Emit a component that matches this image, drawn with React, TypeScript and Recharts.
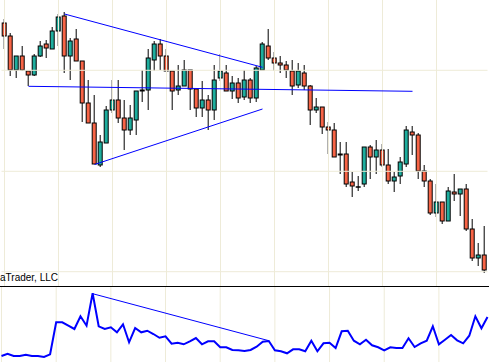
import React from 'react';
import { ComposedChart, LineChart, Line, Bar, XAxis, YAxis, ReferenceLine } from 'recharts';

// Price values are in chart units (no price scale is visible in the reference)
const openPrices = [
  263, 250, 216, 230, 215, 211, 230, 242, 237, 255,
  270, 230, 247, 225, 183, 163, 121, 143, 176, 186,
  168, 156, 166, 196, 196, 226, 242, 230, 215, 196,
  200, 216, 197, 178, 186, 176, 208, 213, 195, 203,
  189, 206, 188, 216, 240, 228, 223, 221, 215, 201,
  213, 200, 176, 179, 159, 156, 132, 132, 104, 99,
  102, 139, 129, 136, 121, 105, 110, 122, 154, 151,
  115, 105, 73, 84, 65, 94, 92, 97, 57, 28,
  31,
];
const highPrices = [
  267, 253, 230, 240, 215, 232, 245, 246, 259, 272,
  274, 248, 257, 225, 206, 191, 151, 180, 206, 206,
  186, 181, 195, 216, 237, 245, 247, 237, 215, 221,
  226, 216, 197, 205, 191, 221, 232, 221, 210, 208,
  216, 208, 220, 244, 257, 234, 230, 225, 226, 223,
  221, 201, 188, 179, 164, 163, 144, 144, 114, 110,
  139, 141, 146, 142, 137, 114, 129, 160, 160, 153,
  121, 107, 102, 84, 99, 112, 97, 102, 67, 43,
  60,
];
const lowPrices = [
  237, 210, 208, 215, 200, 210, 229, 228, 237, 240,
  213, 206, 225, 164, 163, 122, 119, 143, 173, 163,
  136, 151, 151, 184, 176, 215, 216, 215, 176, 191,
  200, 176, 169, 169, 156, 166, 205, 195, 187, 183,
  186, 183, 184, 216, 226, 215, 213, 208, 191, 198,
  196, 161, 173, 152, 132, 129, 112, 99, 89, 95,
  99, 107, 112, 119, 102, 94, 102, 119, 131, 107,
  99, 71, 69, 62, 65, 85, 70, 55, 25, 20,
  13,
];
const closePrices = [
  250, 216, 230, 216, 211, 230, 240, 238, 255, 269,
  230, 245, 225, 183, 163, 122, 144, 176, 186, 168,
  156, 168, 195, 195, 228, 242, 230, 215, 195, 200,
  216, 197, 178, 186, 176, 206, 215, 195, 203, 188,
  206, 188, 218, 242, 228, 223, 221, 216, 200, 215,
  200, 176, 179, 159, 156, 129, 131, 102, 100, 99,
  139, 129, 136, 121, 105, 109, 124, 156, 151, 115,
  105, 73, 84, 65, 95, 92, 97, 57, 28, 31,
  16,
];
// Indicator in the lower pane
const indicatorValues = [
  6, 8.3, 6, 6, 7.3, 6, 6, 5, 7.7, 39.7,
  39.7, 36.3, 33, 45.7, 36.3, 68.7, 35.7, 33, 34.7, 29.7,
  37.7, 19.7, 34, 29.7, 31.3, 28, 24.2, 25.7, 18.3, 19.3,
  17.7, 20.7, 24, 17.7, 20.7, 20.7, 14.7, 14.7, 12, 11.7,
  11, 12, 15.3, 20.3, 21, 11.7, 10.7, 8.7, 12.7, 12.7,
  10.7, 21.3, 10.7, 18.7, 19.3, 14, 30.7, 31.3, 21.3, 17.7,
  22.3, 16.7, 14.7, 11.7, 14.7, 14, 14, 23.7, 15, 18.7,
  21.3, 35.7, 17.7, 22.3, 27, 21.7, 18.7, 26.3, 45.7, 33.7,
  45,
];
const barLabels = openPrices.map((_, i) => String(i));
const gridBars = ['0', '9', '18', '27', '36', '45', '54', '63', '72'];
const gridPrices = [215.7, 114.7, 14.3];

// Trend lines drawn on the chart (bar label, price)
const upperTrend = [{ x: '10', y: 272 }, { x: '43', y: 218.7 }];
const lowerTrend = [{ x: '15', y: 121.5 }, { x: '43', y: 177 }];
const flatTrend = [{ x: '4', y: 199.7 }, { x: '68', y: 194.7 }];
const indicatorTrend = [{ x: '15', y: 68.3 }, { x: '44', y: 21.3 }];

const RED = '#F86446';
const TEAL = '#1EAE9E';
const GRID = '#EEEBD8';
const BLUE = '#0000FF';

const rows = barLabels.map((t, i) => ({
  t,
  o: openPrices[i],
  h: highPrices[i],
  l: lowPrices[i],
  c: closePrices[i],
  range: [lowPrices[i], highPrices[i]],
  ind: indicatorValues[i],
}));

const Candle = (props: any) => {
  const { x, y, width, height, payload } = props;
  if (!payload) return null;
  const { o, h, l, c } = payload;
  const top = Math.min(y, y + height);
  const span = Math.abs(height);
  const k = h !== l ? span / (h - l) : 0;
  const py = (v: number) => top + (h - v) * k;
  const cx = x + width / 2;
  const yo = py(o);
  const yc = py(c);
  const bTop = Math.min(yo, yc);
  const bH = Math.abs(yo - yc);
  return (
    <g>
      <line x1={cx} x2={cx} y1={top} y2={top + span} stroke="#000" strokeWidth={1} />
      {bH < 1 ? (
        <line x1={cx - 2.5} x2={cx + 2.5} y1={yo} y2={yo} stroke="#000" strokeWidth={1.5} />
      ) : (
        <rect x={cx - 2} y={bTop} width={4} height={bH} fill={c > o ? TEAL : RED} stroke="#000" strokeWidth={1} />
      )}
    </g>
  );
};

const margin = { top: 0, right: 1.5, bottom: 0, left: 1.5 };

export default function App() {
  return (
    <div style={{ position: 'absolute', left: 0, top: 0, width: 489, height: 362, overflow: 'hidden', background: '#fff' }}>
      <div style={{ position: 'absolute', left: 0, top: 0 }}>
        <ComposedChart width={489} height={286} data={rows} margin={margin}>
          <XAxis dataKey="t" type="category" hide />
          <YAxis type="number" domain={[0, 286]} hide allowDataOverflow />
          {gridPrices.map((p) => (
            <ReferenceLine key={'h' + p} y={p} stroke={GRID} strokeWidth={1} />
          ))}
          {gridBars.map((b) => (
            <ReferenceLine key={'v' + b} x={b} stroke={GRID} strokeWidth={1} />
          ))}
          <Bar dataKey="range" barSize={6} shape={Candle} isAnimationActive={false} />
          <ReferenceLine segment={upperTrend} stroke={BLUE} strokeWidth={1} />
          <ReferenceLine segment={lowerTrend} stroke={BLUE} strokeWidth={1} />
          <ReferenceLine segment={flatTrend} stroke={BLUE} strokeWidth={1} />
        </ComposedChart>
      </div>
      <div style={{ position: 'absolute', left: 0, top: 286 }}>
        <LineChart width={489} height={76} data={rows} margin={margin}>
          <XAxis dataKey="t" type="category" hide />
          <YAxis type="number" domain={[0, 76]} hide allowDataOverflow />
          {gridBars.map((b) => (
            <ReferenceLine key={'lv' + b} x={b} stroke={GRID} strokeWidth={1} />
          ))}
          <ReferenceLine segment={indicatorTrend} stroke={BLUE} strokeWidth={1} />
          <Line dataKey="ind" type="linear" stroke={BLUE} strokeWidth={2} dot={false} isAnimationActive={false} />
        </LineChart>
      </div>
      <div style={{ position: 'absolute', left: 0, top: 286, width: 489, height: 1, background: '#000' }} />
      <svg width={489} height={362} style={{ position: 'absolute', left: 0, top: 0, pointerEvents: 'none' }}>
        <text x={0} y={281} fontFamily="'Liberation Sans', Arial, sans-serif" fontSize={10} fill="#000">
          aTrader, LLC
        </text>
      </svg>
    </div>
  );
}
